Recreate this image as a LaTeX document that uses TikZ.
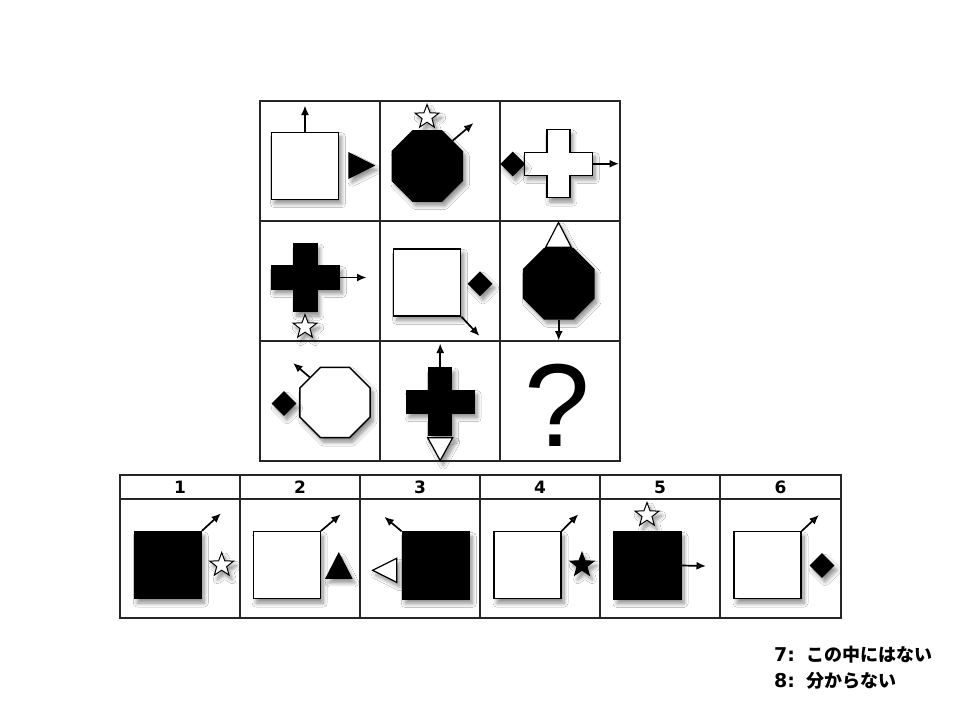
\documentclass[tikz,border=0pt]{standalone}
\usepackage{fontspec}
\setmainfont{Liberation Sans}
\newfontfamily\jpfont{Noto Sans CJK JP}
\newfontfamily\digfont{DejaVu Sans}
\usepackage{tikz}
\usetikzlibrary{arrows.meta,shapes.geometric,shadows.blur}

\tikzset{
  softshadow/.style={blur shadow={shadow xshift=3pt,shadow yshift=-4.5pt,shadow blur radius=4pt,shadow blur steps=8,shadow opacity=45}},
  outline/.style={draw=black,line width=1.4pt},
  gridline/.style={draw=black!85,line width=1.3pt},
  sqw/.style={rectangle,outline,fill=white,minimum size=67pt,inner sep=0pt,softshadow},
  sqb/.style={sqw,fill=black},
  octw/.style={regular polygon,regular polygon sides=8,outline,fill=white,minimum size=76pt,inner sep=0pt,softshadow},
  octb/.style={octw,fill=black},
  starw/.style={star,star points=5,star point ratio=2.4,draw=black,line width=1pt,fill=white,minimum size=25pt,inner sep=0pt,softshadow},
  starb/.style={starw,fill=black},
  diab/.style={diamond,outline,line width=0.8pt,fill=black,minimum size=24pt,inner sep=0pt,softshadow},
  triw/.style={outline,line width=1.2pt,fill=white,softshadow},
  trib/.style={triw,fill=black},
  plusw/.style={outline,fill=white,softshadow},
  plusb/.style={plusw,fill=black},
  arr/.style={-{Latex[length=9.5pt,width=8pt]},line width=1.7pt},
  numlabel/.style={font=\digfont\bfseries\fontsize{17}{17}\selectfont},
  pics/plus/.style={code={
    \path[#1] (-11.5,-34) -- (11.5,-34) -- (11.5,-11.5) -- (34,-11.5) -- (34,11.5)
      -- (11.5,11.5) -- (11.5,34) -- (-11.5,34) -- (-11.5,11.5) -- (-34,11.5)
      -- (-34,-11.5) -- (-11.5,-11.5) -- cycle;
    \coordinate (-n) at (0,-34);
    \coordinate (-e) at (34,0);
  }}
}

\begin{document}
\begin{tikzpicture}[x=1pt,y=-1pt,line join=miter]
  \fill[white] (0,0) rectangle (960,720);
  \useasboundingbox (0,0) rectangle (960,720);

  % --- Matrix grid ---
  \draw[gridline] (260,101) rectangle (620,461);
  \foreach \gx in {380,500} \draw[gridline] (\gx,101) -- (\gx,461);
  \foreach \gy in {221,341} \draw[gridline] (260,\gy) -- (620,\gy);

  % --- Row 1 ---
  \node[sqw] (sq11) at (305,165.7) {};
  \coordinate (a11) at (305,105.5);
  \draw[arr] (sq11.north) -- (a11);
  \path[trib] (349,153) -- (374,165.5) -- (349,178) -- cycle;

  \node[octb] (oct12) at (427.3,166) {};
  \node[starw] (star12) at (427,117) {};
  \coordinate (a12) at (473.5,123);
  \draw[arr] (oct12.north east) -- (a12);

  \pic (p13) at (558.3,163.7) {plus=plusw};
  \node[diab] (dia13) at (512.7,164) {};
  \coordinate (a13) at (619,163.7);
  \draw[arr] (p13-e) -- (a13);

  % --- Row 2 ---
  \pic (p21) at (305.3,277.5) {plus=plusb};
  \coordinate (a21) at (366.5,277.5);
  \draw[arr] (p21-e) -- (a21);
  \node[starw] (star21) at (305,327) {};

  \node[sqw] (sq22) at (427.2,282.5) {};
  \node[diab] (dia22) at (480,283.7) {};
  \coordinate (a22) at (479.5,336);
  \draw[arr] (sq22.south east) -- (a22);

  \node[octb] (oct23) at (558.7,283.7) {};
  \path[triw] (545.7,247.3) -- (558.5,222.5) -- (571.3,247.3) -- cycle;
  \coordinate (a23) at (558.7,340.5);
  \draw[arr] (oct23.south) -- (a23);

  % --- Row 3 ---
  \node[octw] (oct31) at (335,402.5) {};
  \node[diab] (dia31) at (284,403.5) {};
  \coordinate (a31) at (293,363);
  \draw[arr] (oct31.north west) -- (a31);

  \pic (p32) at (440.2,401.7) {plus=plusb};
  \coordinate (a32) at (440.2,343.5);
  \draw[arr] (p32-n) -- (a32);
  \path[triw] (427.7,437.7) -- (452.7,437.7) -- (440.2,460.5) -- cycle;

  \node (q33) at (557.5,405) {\fontsize{118}{118}\selectfont ?};

  % --- Answer table ---
  \draw[gridline] (120,475) rectangle (841,618);
  \draw[gridline] (120,499) -- (841,499);
  \foreach \ax in {240,360,480,600,720} \draw[gridline] (\ax,475) -- (\ax,618);
  \foreach \n/\cx in {1/180,2/300,3/420,4/540,5/660,6/780.5}
    \node[numlabel] (h\n) at (\cx,487.5) {\n};

  % answer 1
  \node[sqb] (ans1) at (167.8,565) {};
  \coordinate (b1) at (221,513.3);
  \draw[arr] (ans1.north east) -- (b1);
  \node[starw] (st1) at (221.7,565) {};

  % answer 2
  \node[sqw] (ans2) at (286.7,565.2) {};
  \coordinate (b2) at (340.7,514.3);
  \draw[arr] (ans2.north east) -- (b2);
  \path[trib] (326,578.3) -- (338.8,553.3) -- (351.7,578.3) -- cycle;

  % answer 3
  \node[sqb] (ans3) at (435.8,565.5) {};
  \coordinate (b3) at (384.3,516.7);
  \draw[arr] (ans3.north west) -- (b3);
  \path[triw] (396.7,558.3) -- (372.7,570.3) -- (396.7,582.3) -- cycle;

  % answer 4
  \node[sqw] (ans4) at (527.5,565.2) {};
  \coordinate (b4) at (578.3,514.3);
  \draw[arr] (ans4.north east) -- (b4);
  \node[starb] (st4) at (582,565) {};

  % answer 5
  \node[sqb] (ans5) at (647.5,565.5) {};
  \node[starw] (st5) at (647,515) {};
  \coordinate (b5) at (706,566);
  \draw[arr] (ans5.east) -- (b5);

  % answer 6
  \node[sqw] (ans6) at (767.5,565.2) {};
  \coordinate (b6) at (819,515);
  \draw[arr] (ans6.north east) -- (b6);
  \node[diab] (dia6) at (822,565.5) {};

  % --- Extra choices ---
  \node[anchor=west,inner sep=0pt,font=\digfont\bfseries\fontsize{19}{19}\selectfont] (n7) at (774,655) {7:};
  \node[anchor=west,inner sep=0pt,font=\jpfont\bfseries\fontsize{18}{18}\selectfont] (t7) at (806,655) {この中にはない};
  \node[anchor=west,inner sep=0pt,font=\digfont\bfseries\fontsize{19}{19}\selectfont] (n8) at (774,681) {8:};
  \node[anchor=west,inner sep=0pt,font=\jpfont\bfseries\fontsize{18}{18}\selectfont] (t8) at (806,681) {分からない};
\end{tikzpicture}
\end{document}
